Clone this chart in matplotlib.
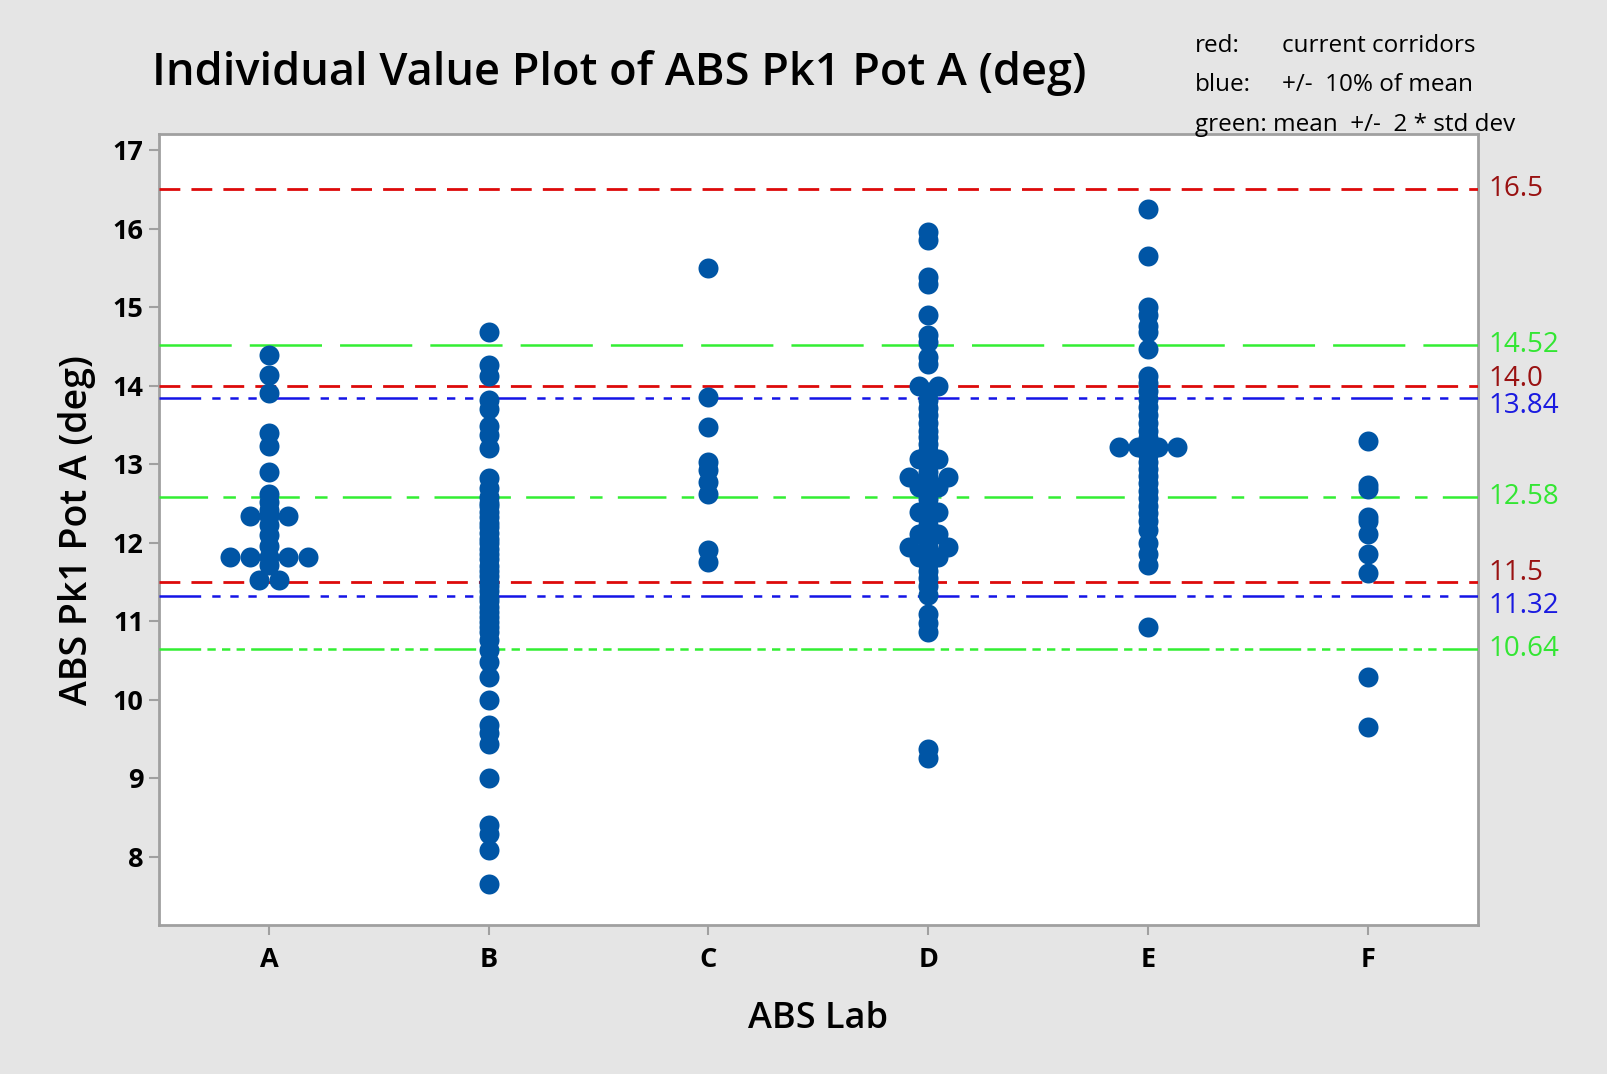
import matplotlib
matplotlib.use("Agg")
import matplotlib.pyplot as plt
import matplotlib.transforms as mtransforms
from collections import Counter

plt.rcParams['font.family'] = ['Open Sans', 'DejaVu Sans']
plt.rcParams['lines.scale_dashes'] = False

# ---------------- data ----------------
categories = ["A", "B", "C", "D", "E", "F"]

lab_a = [14.39, 14.13, 13.90, 13.40, 13.23, 12.90, 12.62, 12.52, 12.42,
         12.34, 12.34, 12.34, 12.22, 12.10, 11.95,
         11.82, 11.82, 11.82, 11.82, 11.82, 11.72, 11.52, 11.52]

lab_b = [14.68, 14.26, 14.12, 13.82, 13.70, 13.48, 13.37, 13.20, 12.82, 12.70,
         12.58, 12.51, 12.46, 12.39, 12.33, 12.25, 12.20, 12.12, 12.04, 11.99,
         11.92, 11.85, 11.79, 11.70, 11.64, 11.57, 11.50, 11.45, 11.38, 11.31,
         11.26, 11.18, 11.11, 11.05, 10.99, 10.92, 10.86, 10.76, 10.63, 10.48,
         10.29, 10.00, 9.68, 9.57, 9.44, 9.00, 8.40, 8.29, 8.08, 7.65]

lab_c = [15.50, 13.86, 13.47, 13.02, 12.93, 12.77, 12.62, 11.90, 11.75]

lab_d = [15.95, 15.85, 15.38, 15.30, 14.90, 14.65, 14.56, 14.37, 14.27,
         14.00, 14.00, 13.92, 13.82, 13.72, 13.62, 13.52, 13.42, 13.35, 13.25,
         13.17, 13.07, 13.07, 12.97, 12.90, 12.83, 12.83, 12.83, 12.77,
         12.71, 12.71, 12.63, 12.55, 12.47, 12.39, 12.39, 12.30, 12.22,
         12.11, 12.11, 12.03, 11.94, 11.94, 11.94, 11.82, 11.82, 11.73,
         11.64, 11.55, 11.45, 11.33, 11.09, 10.97, 10.86, 9.37, 9.25]

lab_e = [16.25, 15.65, 15.00, 14.90, 14.76, 14.68, 14.47,
         14.12, 14.03, 13.93, 13.83, 13.73, 13.62, 13.52, 13.42, 13.33,
         13.22, 13.22, 13.22, 13.22, 13.12, 13.03, 12.94, 12.85, 12.76,
         12.66, 12.57, 12.47, 12.38, 12.28, 12.16, 11.99, 11.86, 11.71, 10.93]

lab_f = [13.29, 12.73, 12.68, 12.33, 12.28, 12.11, 11.86, 11.61, 10.29, 9.65]

red_lines = [16.5, 14.0, 11.5]
red_labels = ["16.5", "14.0", "11.5"]
blue_lines = [13.84, 11.32]
blue_labels = ["13.84", "11.32"]
green_lines = [14.52, 12.58, 10.64]
green_labels = ["14.52", "12.58", "10.64"]

y_ticks = [8, 9, 10, 11, 12, 13, 14, 15, 16, 17]

# ---------------- figure ----------------
BG = "#e5e5e5"
PT_COLOR = "#0055a5"
fig = plt.figure(figsize=(16.08, 10.74), dpi=100, facecolor=BG)
ax = fig.add_axes([0.0989, 0.1385, 0.919 - 0.0989, 0.8749 - 0.1385])
ax.set_facecolor("white")

step = 0.088
all_labs = [lab_a, lab_b, lab_c, lab_d, lab_e, lab_f]
for i, vals in enumerate(all_labs):
    xpos = i + 1
    counts = Counter(vals)
    seen = Counter()
    xs, ys = [], []
    for v in vals:
        n = counts[v]
        k = seen[v]
        seen[v] += 1
        xs.append(xpos + (k - (n - 1) / 2) * step)
        ys.append(v)
    ax.plot(xs, ys, 'o', color=PT_COLOR, markersize=14.4, markeredgewidth=0,
            zorder=5)

# reference lines
red_c, red_txt = "#dd0a0a", "#991111"
blue_c, blue_txt = "#1414e6", "#1a1ae0"
green_c, green_txt = "#33ee33", "#33e633"

for v in red_lines:
    ln = ax.axhline(v, color=red_c, lw=2.0, zorder=3)
    ln.set_dashes([15, 8])
for v in blue_lines:
    ln = ax.axhline(v, color=blue_c, lw=1.8, zorder=3)
    ln.set_dashes([30, 8, 6, 7, 6, 7, 6, 8])
gstyles = [[52, 13], [35, 11, 9, 11], [30, 4.5, 6, 4.5, 6, 4.5, 6, 4.5]]
for v, d in zip(green_lines, gstyles):
    ln = ax.axhline(v, color=green_c, lw=1.8, zorder=3)
    ln.set_dashes(d)

# right-hand labels
label_specs = ([(v, t, red_txt) for v, t in zip(red_lines, red_labels)] +
               [(v, t, blue_txt) for v, t in zip(blue_lines, blue_labels)] +
               [(v, t, green_txt) for v, t in zip(green_lines, green_labels)])
nudges = {"14.0": 5, "13.84": -6, "11.5": 6, "11.32": -7}
btrans = mtransforms.blended_transform_factory(ax.transAxes, ax.transData)
for v, t, c in label_specs:
    tr = mtransforms.offset_copy(btrans, fig=fig, x=8, y=nudges.get(t, 0),
                                 units='points')
    ax.text(1.0, v, t, transform=tr, color=c, fontsize=20, va='center',
            ha='left', clip_on=False)

ax.set_xlim(0.5, 6.5)
ax.set_ylim(7.125, 17.2)
ax.set_xticks(range(1, 7))
ax.set_xticklabels(categories)
ax.set_yticks(y_ticks)
for lbl in ax.get_xticklabels() + ax.get_yticklabels():
    lbl.set_fontsize(19.5)
    lbl.set_fontweight('bold')
ax.tick_params(axis='both', length=7, width=1.5, color="#a0a0a0")
ax.tick_params(axis='x', pad=9)
ax.tick_params(axis='y', pad=4)
for s in ax.spines.values():
    s.set_color("#a0a0a0")
    s.set_linewidth(2)

ax.set_xlabel("ABS Lab", fontsize=26, fontweight='semibold', labelpad=20)
ax.set_ylabel("ABS Pk1 Pot A (deg)", fontsize=27, fontweight='semibold',
              labelpad=12)

fig.text(0.385, 0.932, "Individual Value Plot of ABS Pk1 Pot A (deg)",
         fontsize=32.5, fontweight='semibold', ha='center', va='center')

fs_leg = 17.5
fig.text(0.743, 0.957, "red:", fontsize=fs_leg, va='center')
fig.text(0.797, 0.957, "current corridors", fontsize=fs_leg, va='center')
fig.text(0.743, 0.921, "blue:", fontsize=fs_leg, va='center')
fig.text(0.797, 0.921, "+/-  10% of mean", fontsize=fs_leg, va='center')
fig.text(0.743, 0.884, "green: mean  +/-  2 * std dev", fontsize=fs_leg,
         va='center')

fig.savefig("out.png", dpi=100, facecolor=BG)
